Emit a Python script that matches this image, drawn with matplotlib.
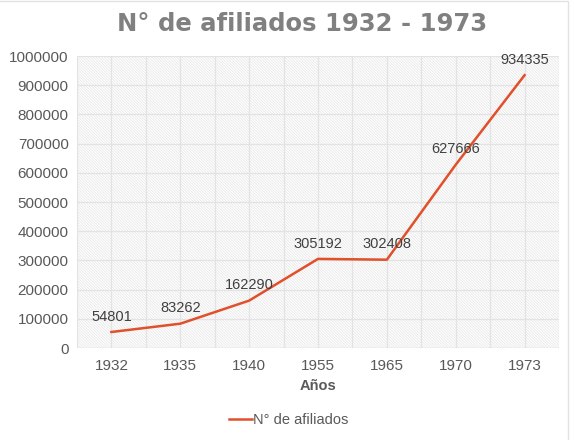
import matplotlib
matplotlib.use("Agg")
import matplotlib.pyplot as plt
from matplotlib.patches import Rectangle

# datos
anios = ["1932", "1935", "1940", "1955", "1965", "1970", "1973"]
afiliados = [54801, 83262, 162290, 305192, 302408, 627666, 934335]
y_ticks = [0, 100000, 200000, 300000, 400000, 500000, 600000, 700000, 800000, 900000, 1000000]

plt.rcParams['font.family'] = ['Liberation Sans', 'DejaVu Sans']
plt.rcParams['hatch.color'] = '#e8e8e8'
plt.rcParams['hatch.linewidth'] = 0.6

fig = plt.figure(figsize=(5.74, 4.40), dpi=100)
ax = fig.add_axes([77 / 574, 1 - 348 / 440, 482 / 574, 292 / 440])

# fondo rayado
ax.patch.set_facecolor('white')
ax.patch.set_hatch('\\' * 12)
ax.patch.set_edgecolor('#e8e8e8')

x = list(range(len(anios)))
ax.plot(x, afiliados, color='#e0502a', lw=1.8, label='N° de afiliados', zorder=3)

for xi, v in zip(x, afiliados):
    ax.annotate(str(v), (xi, v), xytext=(0, 6), textcoords='offset points',
                ha='center', va='bottom', fontsize=10.5, color='#404040', zorder=4)

ax.set_xlim(-0.5, len(anios) - 0.5)
ax.set_ylim(0, 1000000)
ax.set_xticks(x)
ax.set_xticklabels(anios)
ax.set_xticks([i - 0.5 for i in range(len(anios) + 1)], minor=True)
ax.set_yticks(y_ticks)
ax.set_yticklabels([str(t) for t in y_ticks])

ax.grid(True, which='major', color='#e3e3e3', lw=0.9)
ax.grid(True, which='minor', axis='x', color='#e3e3e3', lw=0.9)
ax.set_axisbelow(True)
ax.tick_params(which='both', length=0, labelsize=11, colors='#595959', pad=6)
ax.tick_params(axis='x', pad=8)
for s in ax.spines.values():
    s.set_visible(False)
ax.axhline(0, color='#d9d9d9', lw=0.9, zorder=2)

ax.set_xlabel('Años', fontsize=10.5, fontweight='bold', color='#595959', labelpad=4)

fig.text(0.526, 0.945, 'N° de afiliados 1932 - 1973', ha='center', va='center',
         fontsize=17.5, fontweight='bold', color='#808080', family='DejaVu Sans')

leg = fig.legend(loc='center', bbox_to_anchor=(0.503, 0.045), frameon=False,
                 fontsize=10.5, handlelength=1.6, handletextpad=0.1)
for t in leg.get_texts():
    t.set_color('#595959')

fig.patches.append(Rectangle((-0.01, -0.01), 568 / 574 + 0.01, 1.008, transform=fig.transFigure,
                             fill=False, edgecolor='#e2e2e2', lw=1.0))

fig.savefig('out.png', dpi=100)
